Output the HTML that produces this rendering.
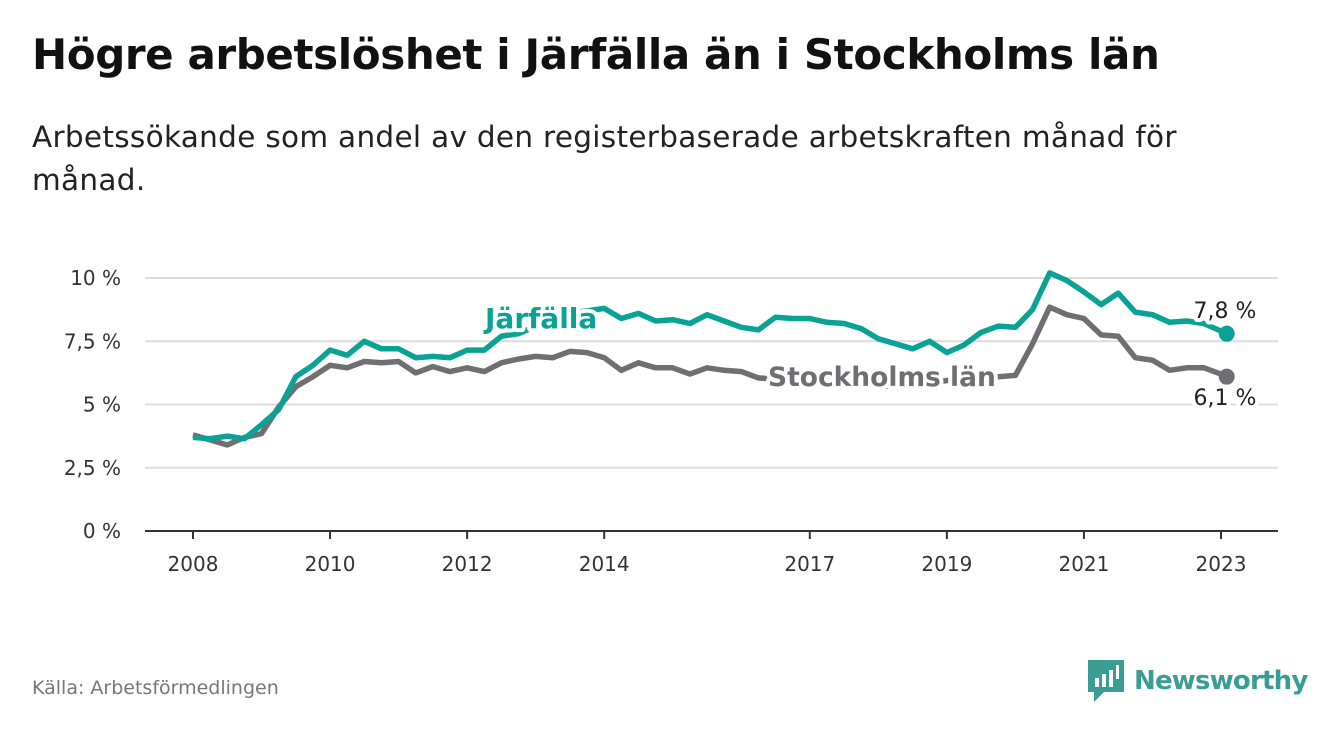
<!DOCTYPE html>
<html><head><meta charset="utf-8"><style>
body{margin:0;background:#fff;font-family:"Liberation Sans","DejaVu Sans",sans-serif;}
#wrap{position:relative;width:1340px;height:734px;overflow:hidden}
h1{position:absolute;left:32px;top:30px;margin:0;font-size:42px;font-weight:bold;color:#111;font-family:"DejaVu Sans","Liberation Sans",sans-serif;letter-spacing:-0.4px}
.sub{position:absolute;left:32px;top:116px;width:1200px;font-size:29.5px;line-height:43px;color:#222;font-family:"DejaVu Sans","Liberation Sans",sans-serif;letter-spacing:0.3px}
.src{position:absolute;left:32px;top:677px;font-size:19px;color:#777;font-family:"DejaVu Sans",sans-serif}
.logo{position:absolute;left:1088px;top:660px;display:flex;align-items:center}
.logo span{font-size:26px;font-weight:bold;color:#3a9d94;margin-left:10px;font-family:"DejaVu Sans",sans-serif;letter-spacing:-0.8px}
</style></head><body>
<div id="wrap">
<h1>Högre arbetslöshet i Järfälla än i Stockholms län</h1>
<div class="sub">Arbetssökande som andel av den registerbaserade arbetskraften månad för månad.</div>
<svg id="chart" width="1340" height="734" style="position:absolute;left:0;top:0"></svg>
<div class="src">Källa: Arbetsförmedlingen</div>
<div class="logo">
<svg width="36" height="42" viewBox="0 0 36 42"><path d="M0 0H36V32H16L6 42V32H0Z" fill="#3a9d94"/><rect x="7" y="18" width="4" height="9" fill="#fff"/><rect x="14" y="14" width="4" height="13" fill="#fff"/><rect x="21" y="10" width="4" height="17" fill="#fff"/><rect x="28" y="5" width="3" height="14" fill="#fff"/></svg>
<span>Newsworthy</span></div>
</div>
<script>
const months = [0,3,6,9,12,15,18,21,24,27,30,33,36,39,42,45,48,51,54,57,60,63,66,69,72,75,78,81,84,87,90,93,96,99,102,105,108,111,114,117,120,123,126,129,132,135,138,141,144,147,150,153,156,159,162,165,168,171,174,177,180,181];
const jarfalla = [3.7,3.65,3.75,3.65,4.2,4.8,6.1,6.55,7.15,6.95,7.5,7.2,7.2,6.85,6.9,6.85,7.15,7.15,7.7,7.8,8.1,8.4,8.6,8.7,8.8,8.4,8.6,8.3,8.35,8.2,8.55,8.3,8.05,7.95,8.45,8.4,8.4,8.25,8.2,8.0,7.6,7.4,7.2,7.5,7.05,7.35,7.85,8.1,8.05,8.75,10.2,9.9,9.45,8.95,9.4,8.65,8.55,8.25,8.3,8.2,7.9,7.8];
const stockholm = [3.8,3.6,3.4,3.7,3.85,4.9,5.7,6.1,6.55,6.45,6.7,6.65,6.7,6.25,6.5,6.3,6.45,6.3,6.65,6.8,6.9,6.85,7.1,7.05,6.85,6.35,6.65,6.45,6.45,6.2,6.45,6.35,6.3,6.05,6.0,6.0,6.1,5.95,5.9,5.8,5.75,5.7,5.7,5.85,5.95,6.0,6.05,6.1,6.15,7.4,8.85,8.55,8.4,7.75,7.7,6.85,6.75,6.35,6.45,6.45,6.2,6.1];
const yTicks = [0,2.5,5,7.5,10];
const yTickLabels = ["0 %","2,5 %","5 %","7,5 %","10 %"];
const xTickMonths = [0,24,48,72,108,132,156,180];
const xTickLabels = ["2008","2010","2012","2014","2017","2019","2021","2023"];
const endLabels = ["7,8 %","6,1 %"];

const NS="http://www.w3.org/2000/svg";
const svg=document.getElementById('chart');
const X=m=>193+m*(1221-193)/180;
const Y=v=>531-v*(531-278)/10;
function el(t,a,p){const e=document.createElementNS(NS,t);for(const k in a)e.setAttribute(k,a[k]);(p||svg).appendChild(e);return e;}
yTicks.forEach((v,i)=>{
  if(v>0){const g=el('line',{x1:145,x2:1278,y1:Y(v),y2:Y(v),stroke:'#dcdcdc','stroke-width':2});
  
  }
  const t=el('text',{x:121,y:Y(v)+7,'text-anchor':'end','font-size':20,fill:'#333','font-family':'DejaVu Sans, sans-serif'});
  t.textContent=yTickLabels[i];
  
  
});
const ax=el('line',{x1:145,x2:1278,y1:531,y2:531,stroke:'#333','stroke-width':2});


xTickMonths.forEach((m,i)=>{
  const tk=el('line',{x1:X(m),x2:X(m),y1:531,y2:539,stroke:'#333','stroke-width':2});
  
  
  const t=el('text',{x:X(m),y:571,'text-anchor':'middle','font-size':20,fill:'#333','font-family':'DejaVu Sans, sans-serif'});
  t.textContent=xTickLabels[i];
  
  
});
function line(vals,color,name){
  const d=vals.map((v,i)=>(i?'L':'M')+X(months[i]).toFixed(1)+' '+Y(v).toFixed(1)).join(' ');
  const p=el('path',{d:d,fill:'none',stroke:color,'stroke-width':5.5,'stroke-linejoin':'round'});
  
  
  const n=vals.length-1;
  const c=el('circle',{cx:X(months[n]),cy:Y(vals[n]),r:8,fill:color});
  
  
}
line(stockholm,'#6f6e73','stockholm-line');
line(jarfalla,'#0aa294','jarfalla-line');
function label(txt,x,y,color,name,size,weight,anchor){
  const t=el('text',{x:x,y:y,'font-size':size,'font-weight':weight,fill:color,stroke:'#fff','stroke-width':8,'paint-order':'stroke','stroke-linejoin':'round','text-anchor':anchor||'start','font-family':'DejaVu Sans, sans-serif'});
  t.textContent=txt;
  
  
}
label('Järfälla',485,328,'#0aa294','jarfalla-label',28,'bold');
label('Stockholms län',768,386,'#6f6e73','stockholm-label',26.5,'bold');
label(endLabels[0],1225,318,'#222','jarfalla-end-value',22,'normal','middle');
label(endLabels[1],1225,405,'#222','stockholm-end-value',22,'normal','middle');
</script>
</body></html>
